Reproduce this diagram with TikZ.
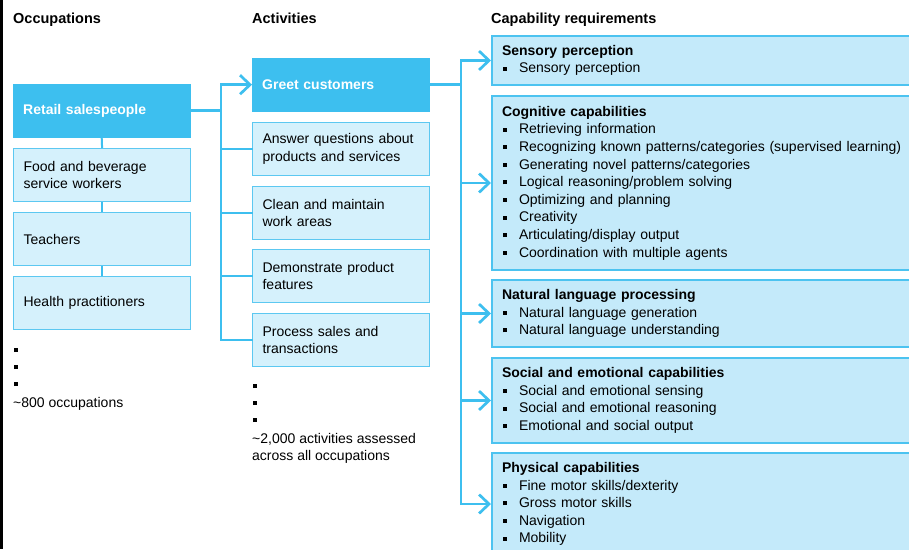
\documentclass[tikz,border=0pt]{standalone}
\usepackage{fontspec}
\setmainfont{Liberation Sans}
\usetikzlibrary{arrows.meta}
\definecolor{dark}{HTML}{3DBFEF}
\definecolor{lightbox}{HTML}{D5F1FC}
\definecolor{lineblue}{HTML}{5CC8F1}
\definecolor{capfill}{HTML}{C4EAFA}
\definecolor{capline}{HTML}{4CC3F0}
\newcommand{\bl}{\makebox[17pt][l]{\hspace{1pt}\rule[2.3pt]{4pt}{4pt}}}
\begin{document}
\begin{tikzpicture}[x=1pt,y=-1pt,
 every node/.style={font=\fontsize{14}{17.6}\selectfont, inner sep=0pt},
 head/.style={font=\fontsize{14.5}{17.6}\selectfont\bfseries, anchor=base west},
 occdark/.style={fill=dark, draw=dark, minimum width=177pt, minimum height=53pt, text width=157pt, align=left, inner xsep=10pt, font=\fontsize{14}{17.6}\selectfont\bfseries, text=white, anchor=north west},
 occ/.style={fill=lightbox, draw=lineblue, line width=1.2pt, minimum width=177pt, minimum height=53pt, text width=157pt, align=left, inner xsep=10pt, anchor=north west},
 capbox/.style={fill=capfill, draw=capline, line width=2pt, minimum width=440pt, text width=420pt, align=left, inner xsep=10pt, anchor=north west},
 link/.style={draw=dark, line width=2.5pt, line cap=rect},
 arr/.style={draw=dark, line width=2.7pt, -{Straight Barb[length=10pt,width=19pt]}},
 dotmark/.style={anchor=north west},
]
\clip (0,0) rectangle (909,549);
\fill[white] (0,0) rectangle (909,549);
\fill[black] (0,0) rectangle (2.5,549);

% headings
\node[head] (h1) at (13,23) {Occupations};
\node[head] (h2) at (252,23) {Activities};
\node[head] (h3) at (491,23) {Capability requirements};

% occupations
\node[occdark] (retail) at (13,84) {Retail salespeople};
\node[occ] (food) at (13,148) {Food and beverage\\service workers};
\node[occ] (teach) at (13,212) {Teachers};
\node[occ] (health) at (13,276) {Health practitioners};
\node[dotmark] (od1) at (14,348) {\rule{4pt}{4pt}};
\node[dotmark] (od2) at (14,365) {\rule{4pt}{4pt}};
\node[dotmark] (od3) at (14,382) {\rule{4pt}{4pt}};
\node[anchor=west] (occn) at (13,404) {\textasciitilde 800 occupations};

% activities
\node[occdark] (greet) at (252,58) {Greet customers};
\node[occ] (answer) at (252,122) {Answer questions about\\products and services};
\node[occ] (clean) at (252,186) {Clean and maintain\\work areas};
\node[occ] (demo) at (252,249) {Demonstrate product\\features};
\node[occ] (proc) at (252,313) {Process sales and\\transactions};
\node[dotmark] (ad1) at (253,384) {\rule{4pt}{4pt}};
\node[dotmark] (ad2) at (253,401) {\rule{4pt}{4pt}};
\node[dotmark] (ad3) at (253,418) {\rule{4pt}{4pt}};
\node[anchor=north west, align=left] (actn) at (252,433) {\textasciitilde 2,000 activities assessed\\across all occupations};

% capabilities
\node[capbox, minimum height=49pt] (sens) at (491,35) {\textbf{Sensory perception}\\\bl Sensory perception};
\node[capbox, minimum height=174pt] (cog) at (491,95) {\textbf{Cognitive capabilities}\\
\bl Retrieving information\\
\bl Recognizing known patterns/categories (supervised learning)\\
\bl Generating novel patterns/categories\\
\bl Logical reasoning/problem solving\\
\bl Optimizing and planning\\
\bl Creativity\\
\bl Articulating/display output\\
\bl Coordination with multiple agents};
\node[capbox, minimum height=67pt] (nlp) at (491,279) {\textbf{Natural language processing}\\
\bl Natural language generation\\
\bl Natural language understanding};
\node[capbox, minimum height=85pt] (soc) at (491,357) {\textbf{Social and emotional capabilities}\\
\bl Social and emotional sensing\\
\bl Social and emotional reasoning\\
\bl Emotional and social output};
\node[capbox, minimum height=102pt] (phys) at (491,452) {\textbf{Physical capabilities}\\
\bl Fine motor skills/dexterity\\
\bl Gross motor skills\\
\bl Navigation\\
\bl Mobility};

% occupation links
\draw[draw=dark, line width=2pt] (retail.south) -- (food.north);
\draw[draw=dark, line width=2pt] (food.south) -- (teach.north);
\draw[draw=dark, line width=2pt] (teach.south) -- (health.north);

% occupations -> activities
\coordinate (j1) at (221,0);
\draw[link] (retail.east) -- (retail.east -| j1);
\draw[link] (j1 |- greet.west) -- (j1 |- proc.west);
\draw[arr] (j1 |- greet.west) -- (greet.west);
\draw[link] (j1 |- answer.west) -- (answer.west);
\draw[link] (j1 |- clean.west) -- (clean.west);
\draw[link] (j1 |- demo.west) -- (demo.west);
\draw[link] (j1 |- proc.west) -- (proc.west);

% activities -> capabilities
\coordinate (j2) at (461,0);
\draw[link] (greet.east) -- (greet.east -| j2);
\draw[link] (j2 |- sens.west) -- (j2 |- phys.west);
\draw[arr] (j2 |- sens.west) -- (sens.west);
\draw[arr] (j2 |- cog.west) -- (cog.west);
\draw[arr] (j2 |- nlp.west) -- (nlp.west);
\draw[arr] (j2 |- soc.west) -- (soc.west);
\draw[arr] (j2 |- phys.west) -- (phys.west);
\end{tikzpicture}
\end{document}
